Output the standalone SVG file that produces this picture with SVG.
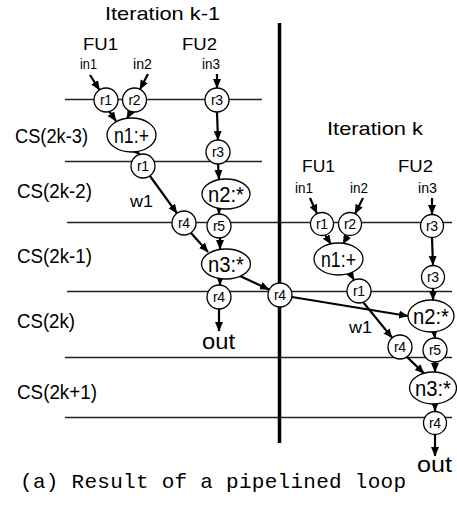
<svg xmlns="http://www.w3.org/2000/svg" width="457" height="505" viewBox="0 0 457 505">
<style>
text{font-family:"Liberation Sans",Arial,sans-serif;fill:#000}
.t{font-size:19px}
.fu{font-size:17px}
.in{font-size:14px}
.cs{font-size:20px}
.w{font-size:16px}
.out{font-size:22px}
.rl{font-size:14px;text-anchor:middle}
.nl{font-size:22px;text-anchor:middle}
circle,ellipse{fill:#fff;stroke:#000;stroke-width:1.3}
.grid line{stroke:#222;stroke-width:1.3}
.c line{stroke:#000;stroke-width:2.2;marker-end:url(#ah)}
.cap{font-family:"Liberation Mono","Noto Sans CJK JP",monospace;font-size:21px}
</style>
<defs>
<marker id="ah" markerUnits="userSpaceOnUse" markerWidth="10" markerHeight="9" refX="9" refY="4" orient="auto">
<path d="M0,0 L9.5,4 L0,8 z" fill="#000"/>
</marker>
</defs>
<rect width="457" height="505" fill="#fff"/>
<g class="grid">
<line x1="65" y1="99.5" x2="262" y2="99.5"/>
<line x1="65" y1="161.5" x2="262" y2="161.5"/>
<line x1="67" y1="222.5" x2="452" y2="222.5"/>
<line x1="67" y1="291.5" x2="452" y2="291.5"/>
<line x1="65" y1="357.5" x2="452" y2="357.5"/>
<line x1="65" y1="417.5" x2="452" y2="417.5"/>
</g>
<line id="divider" x1="279.5" y1="23" x2="279.5" y2="443" stroke="#000" stroke-width="3.5"/>
<g id="labels">
<text class="t" x="105" y="20" textLength="115" lengthAdjust="spacingAndGlyphs">Iteration k-1</text>
<text class="fu" x="83" y="50" textLength="35" lengthAdjust="spacingAndGlyphs">FU1</text>
<text class="fu" x="182" y="50" textLength="35" lengthAdjust="spacingAndGlyphs">FU2</text>
<text class="in" x="80" y="69" textLength="17" lengthAdjust="spacingAndGlyphs">in1</text>
<text class="in" x="133" y="69" textLength="19" lengthAdjust="spacingAndGlyphs">in2</text>
<text class="in" x="202" y="69" textLength="18" lengthAdjust="spacingAndGlyphs">in3</text>
<text class="cs" x="15" y="143" textLength="73" lengthAdjust="spacingAndGlyphs">CS(2k-3)</text>
<text class="cs" x="17" y="198" textLength="75" lengthAdjust="spacingAndGlyphs">CS(2k-2)</text>
<text class="cs" x="17" y="263" textLength="75" lengthAdjust="spacingAndGlyphs">CS(2k-1)</text>
<text class="cs" x="17" y="328" textLength="58" lengthAdjust="spacingAndGlyphs">CS(2k)</text>
<text class="cs" x="17" y="399" textLength="80" lengthAdjust="spacingAndGlyphs">CS(2k+1)</text>
<text class="w" x="130" y="207" textLength="23" lengthAdjust="spacingAndGlyphs">w1</text>
<text class="out" x="202" y="349" textLength="33" lengthAdjust="spacingAndGlyphs">out</text>
<text class="t" x="327" y="135" textLength="96" lengthAdjust="spacingAndGlyphs">Iteration k</text>
<text class="fu" x="302" y="172" textLength="33" lengthAdjust="spacingAndGlyphs">FU1</text>
<text class="fu" x="398" y="172" textLength="35" lengthAdjust="spacingAndGlyphs">FU2</text>
<text class="in" x="295" y="193" textLength="18" lengthAdjust="spacingAndGlyphs">in1</text>
<text class="in" x="350" y="193" textLength="18" lengthAdjust="spacingAndGlyphs">in2</text>
<text class="in" x="418" y="193" textLength="19" lengthAdjust="spacingAndGlyphs">in3</text>
<text class="w" x="349" y="333" textLength="23" lengthAdjust="spacingAndGlyphs">w1</text>
<text class="out" x="417" y="472" textLength="35" lengthAdjust="spacingAndGlyphs">out</text>
<text class="cap" x="20" y="488" textLength="386">(a) Result of a pipelined loop</text>
</g>
<g class="c" id="connectors">
<line x1="90" y1="75" x2="99.5" y2="90"/>
<line x1="148" y1="74" x2="140" y2="89.3"/>
<line x1="217" y1="74" x2="217" y2="88"/>
<line x1="109" y1="111" x2="116" y2="121"/>
<line x1="131" y1="111" x2="127" y2="118.5"/>
<line x1="135" y1="150" x2="140" y2="155"/>
<line x1="217" y1="112" x2="218" y2="140"/>
<line x1="218" y1="164" x2="219" y2="179"/>
<line x1="150" y1="176" x2="177" y2="213.3"/>
<line x1="219" y1="208" x2="219" y2="214"/>
<line x1="191" y1="233" x2="208" y2="252"/>
<line x1="220" y1="238" x2="220" y2="249"/>
<line x1="220" y1="278" x2="220" y2="285"/>
<line x1="219" y1="309" x2="219" y2="331"/>
<line x1="240" y1="276" x2="269" y2="289.5"/>
<line x1="310" y1="198" x2="317" y2="213.6"/>
<line x1="363" y1="198" x2="355" y2="213.7"/>
<line x1="432" y1="198" x2="432" y2="214"/>
<line x1="325" y1="235" x2="331" y2="244"/>
<line x1="348" y1="235" x2="343" y2="244"/>
<line x1="432" y1="238" x2="433" y2="265"/>
<line x1="350" y1="273" x2="354" y2="280"/>
<line x1="433" y1="289" x2="433" y2="300"/>
<line x1="292" y1="297" x2="408" y2="316"/>
<line x1="363" y1="302" x2="392.2" y2="337.9"/>
<line x1="434" y1="331" x2="435" y2="338"/>
<line x1="407" y1="357" x2="424" y2="373.4"/>
<line x1="435" y1="362" x2="435" y2="372"/>
<line x1="435" y1="403" x2="435" y2="411"/>
<line x1="435" y1="435" x2="435" y2="456"/>
</g>
<g id="k1-r1a"><circle cx="106" cy="100" r="12"/><text class="rl" x="106" y="105" textLength="12">r1</text></g>
<g id="k1-r2a"><circle cx="134.5" cy="100" r="12"/><text class="rl" x="134.5" y="105" textLength="12">r2</text></g>
<g id="k1-r3a"><circle cx="217" cy="100" r="12"/><text class="rl" x="217" y="105" textLength="12">r3</text></g>
<g id="k1-n1"><ellipse cx="131.5" cy="135" rx="24.5" ry="17"/><text class="nl" x="131.5" y="143" textLength="35" lengthAdjust="spacingAndGlyphs">n1:+</text></g>
<g id="k1-r1b"><circle cx="143" cy="166" r="12"/><text class="rl" x="143" y="171" textLength="12">r1</text></g>
<g id="k1-r3b"><circle cx="218" cy="152" r="12"/><text class="rl" x="218" y="157" textLength="12">r3</text></g>
<g id="k1-n2"><ellipse cx="226" cy="194" rx="24" ry="15"/><text class="nl" x="226" y="202" textLength="36" lengthAdjust="spacingAndGlyphs">n2:*</text></g>
<g id="k1-r4a"><circle cx="184" cy="223" r="12"/><text class="rl" x="184" y="228" textLength="12">r4</text></g>
<g id="k1-r5"><circle cx="219" cy="226" r="12"/><text class="rl" x="219" y="231" textLength="12">r5</text></g>
<g id="k1-n3"><ellipse cx="226" cy="264" rx="24.5" ry="15"/><text class="nl" x="226" y="272" textLength="36" lengthAdjust="spacingAndGlyphs">n3:*</text></g>
<g id="k1-r4b"><circle cx="219" cy="297" r="12"/><text class="rl" x="219" y="302" textLength="12">r4</text></g>
<g id="k1-r4c"><circle cx="280" cy="295" r="12"/><text class="rl" x="280" y="300" textLength="12">r4</text></g>
<g id="k-r1a"><circle cx="322" cy="224" r="11.5"/><text class="rl" x="322" y="229" textLength="12">r1</text></g>
<g id="k-r2a"><circle cx="350" cy="224" r="11.5"/><text class="rl" x="350" y="229" textLength="12">r2</text></g>
<g id="k-r3a"><circle cx="432" cy="226" r="11.5"/><text class="rl" x="432" y="231" textLength="12">r3</text></g>
<g id="k-n1"><ellipse cx="338.5" cy="259" rx="24.5" ry="16"/><text class="nl" x="338.5" y="267" textLength="35" lengthAdjust="spacingAndGlyphs">n1:+</text></g>
<g id="k-r3b"><circle cx="433" cy="277" r="11.5"/><text class="rl" x="433" y="282" textLength="12">r3</text></g>
<g id="k-r1b"><circle cx="359" cy="291" r="12"/><text class="rl" x="359" y="296" textLength="12">r1</text></g>
<g id="k-n2"><ellipse cx="431" cy="316" rx="23" ry="16"/><text class="nl" x="431" y="324" textLength="36" lengthAdjust="spacingAndGlyphs">n2:*</text></g>
<g id="k-r4a"><circle cx="400" cy="347" r="12"/><text class="rl" x="400" y="352" textLength="12">r4</text></g>
<g id="k-r5"><circle cx="435" cy="350" r="12"/><text class="rl" x="435" y="355" textLength="12">r5</text></g>
<g id="k-n3"><ellipse cx="433" cy="388" rx="23.5" ry="16"/><text class="nl" x="433" y="396" textLength="36" lengthAdjust="spacingAndGlyphs">n3:*</text></g>
<g id="k-r4b"><circle cx="435" cy="423" r="11.5"/><text class="rl" x="435" y="428" textLength="12">r4</text></g>
</svg>
